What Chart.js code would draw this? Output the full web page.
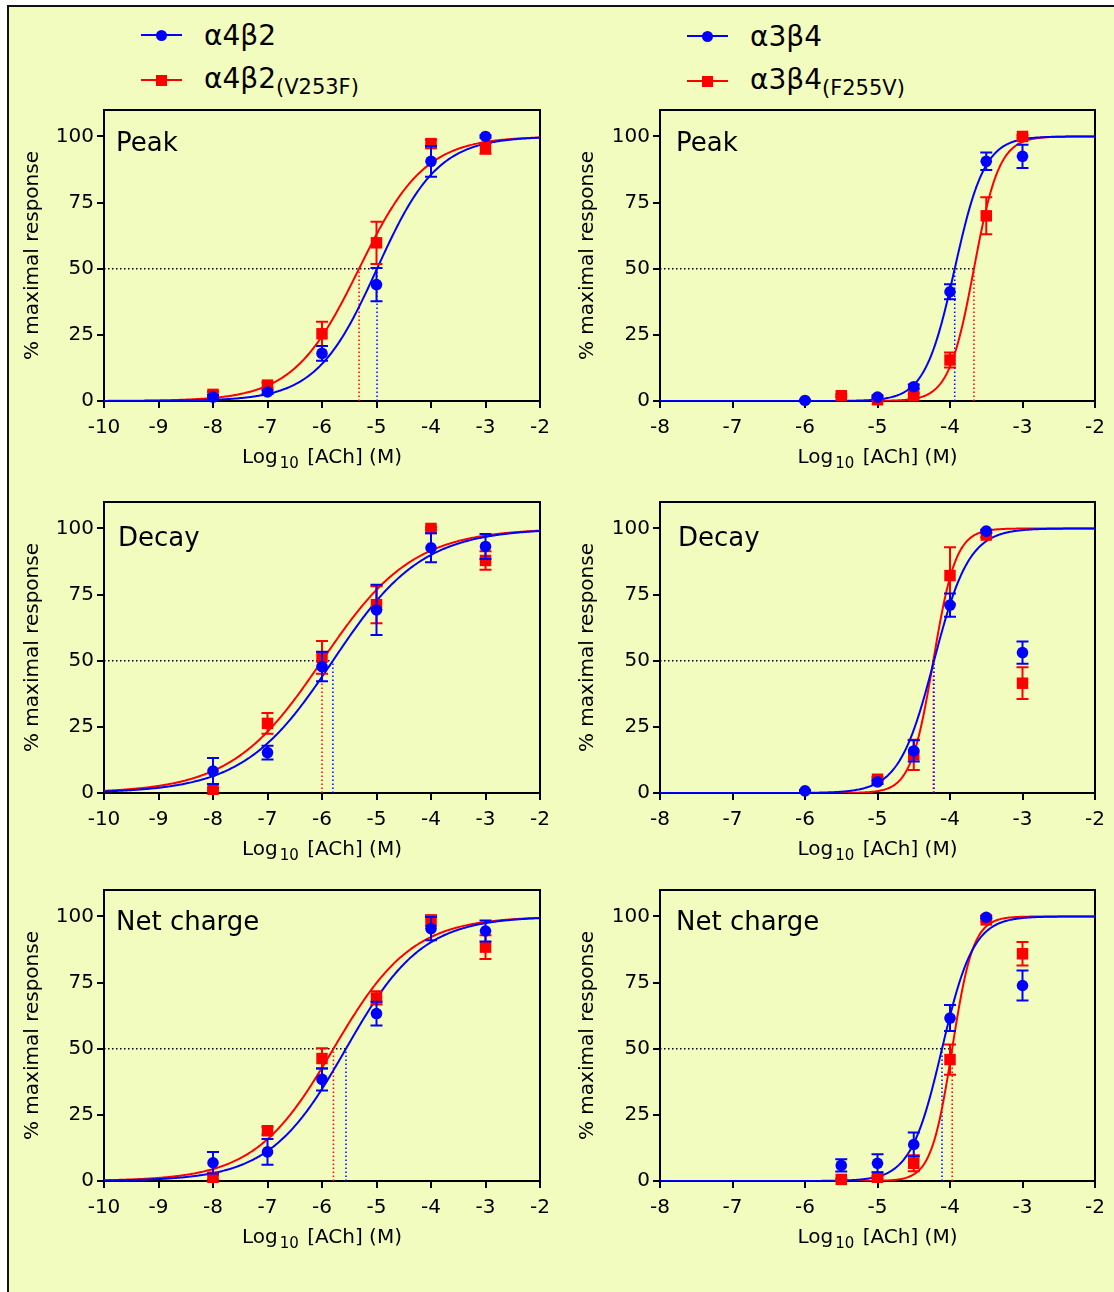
<!DOCTYPE html>
<html>
<head>
<meta charset="utf-8">
<script src="https://cdn.jsdelivr.net/npm/chart.js@4.4.1/dist/chart.umd.min.js"></script>
<style>
html,body{margin:0;padding:0;background:#ffffff;width:1114px;height:1292px;overflow:hidden;font-family:"DejaVu Sans",Verdana,sans-serif;}
#frame{position:absolute;left:7px;top:5px;width:1200px;height:1400px;background:#f3fcbf;border-left:2px solid #111;border-top:2px solid #111;}
canvas{position:absolute;}
.leg{position:absolute;font-size:28px;line-height:28px;color:#000;white-space:nowrap;}
.leg span{font-size:21px;position:relative;top:6px;}
.lline{position:absolute;height:2px;width:41px;}
.ldot{position:absolute;width:11px;height:11px;border-radius:50%;background:#0000ff;}
.lsq{position:absolute;width:11px;height:11px;background:#ff0000;}
</style>
</head>
<body>
<div id="frame"></div>

<div class="lline" style="left:141px;top:34px;background:#0000ff"></div>
<div class="ldot" style="left:155.5px;top:29.5px"></div>
<div class="leg" style="left:204px;top:22px">α4β2</div>
<div class="lline" style="left:141px;top:79px;background:#ff0000"></div>
<div class="lsq" style="left:155.5px;top:74.5px"></div>
<div class="leg" style="left:204px;top:65px">α4β2<span>(V253F)</span></div>

<div class="lline" style="left:687px;top:35px;background:#0000ff"></div>
<div class="ldot" style="left:701.5px;top:30.5px"></div>
<div class="leg" style="left:750px;top:23px">α3β4</div>
<div class="lline" style="left:687px;top:80px;background:#ff0000"></div>
<div class="lsq" style="left:701.5px;top:75.5px"></div>
<div class="leg" style="left:750px;top:66px">α3β4<span>(F255V)</span></div>

<canvas id="c0" width="560" height="400" style="left:0px;top:100px"></canvas>
<canvas id="c1" width="558" height="400" style="left:556px;top:100px"></canvas>
<canvas id="c2" width="560" height="400" style="left:0px;top:492px"></canvas>
<canvas id="c3" width="558" height="400" style="left:556px;top:492px"></canvas>
<canvas id="c4" width="560" height="400" style="left:0px;top:880px"></canvas>
<canvas id="c5" width="558" height="400" style="left:556px;top:880px"></canvas>

<script>
// ---------------- data ----------------
const FONT = '"DejaVu Sans", Verdana, sans-serif';
const xTicksA42 = [-10, -9, -8, -7, -6, -5, -4, -3, -2];
const xTicksA34 = [-8, -7, -6, -5, -4, -3, -2];
const yTicks = [0, 25, 50, 75, 100];
const panelTitles = ['Peak', 'Decay', 'Net charge'];
const yAxisTitle = '% maximal response';

// alpha4beta2 (log10 [ACh] M)
const a42Dose = [-8, -7, -6, -5, -4, -3];
const a42PeakWT      = [1.5, 3.4, 18.0, 44.0, 90.6, 100.0];
const a42PeakWTErr   = [0.8, 0.8, 2.8, 6.3, 5.8, 0.5];
const a42PeakMut     = [2.5, 6.0, 25.4, 59.8, 97.3, 95.5];
const a42PeakMutErr  = [1.0, 1.0, 4.6, 8.0, 1.5, 2.0];
const a42DecayWT     = [8.3, 15.3, 47.8, 69.2, 92.7, 93.2];
const a42DecayWTErr  = [4.9, 2.6, 5.6, 9.5, 5.5, 4.7];
const a42DecayMut    = [1.4, 26.3, 51.3, 71.2, 100.0, 87.9];
const a42DecayMutErr = [0.5, 3.9, 6.2, 7.0, 0.5, 3.5];
const a42NetWT       = [6.9, 11.0, 38.4, 63.3, 95.4, 94.5];
const a42NetWTErr    = [4.1, 4.9, 4.2, 4.5, 4.4, 4.0];
const a42NetMut      = [1.4, 19.0, 46.3, 69.2, 98.5, 88.4];
const a42NetMutErr   = [0.8, 1.5, 3.9, 2.5, 2.0, 4.5];

// alpha3beta4
const a34PeakWTDose   = [-6, -5, -4.5, -4, -3.5, -3];
const a34PeakWT       = [0.2, 1.5, 5.4, 41.3, 90.6, 92.5];
const a34PeakWTErr    = [0.3, 0.5, 0.8, 2.8, 3.3, 4.4];
const a34PeakMutDose  = [-5.5, -5, -4.5, -4, -3.5, -3];
const a34PeakMut      = [2.0, 0.5, 2.0, 15.5, 70.0, 100.0];
const a34PeakMutErr   = [0.5, 0.3, 0.8, 2.8, 7.0, 0.5];
const a34DecayWTDose  = [-6, -5, -4.5, -4, -3.5, -3];
const a34DecayWT      = [0.8, 4.2, 15.9, 71.0, 99.0, 53.1];
const a34DecayWTErr   = [0.3, 0.8, 4.0, 4.4, 0.5, 4.2];
const a34DecayMutDose = [-5, -4.5, -4, -3.5, -3];
const a34DecayMut     = [5.2, 14.4, 82.2, 97.5, 41.5];
const a34DecayMutErr  = [0.8, 5.7, 10.7, 0.8, 6.0];
const a34NetWTDose    = [-5.5, -5, -4.5, -4, -3.5, -3];
const a34NetWT        = [5.9, 6.7, 13.8, 61.6, 99.7, 73.9];
const a34NetWTErr     = [2.3, 3.4, 4.5, 4.9, 0.5, 5.7];
const a34NetMutDose   = [-5.5, -5, -4.5, -4, -3.5, -3];
const a34NetMut       = [0.6, 1.4, 6.7, 45.9, 98.7, 85.9];
const a34NetMutErr    = [0.3, 0.5, 3.0, 5.7, 0.5, 4.4];

// Hill fits: [logEC50, Hill slope]
const a42PeakWTFit   = [-4.99, 0.78];
const a42PeakMutFit  = [-5.32, 0.72];
const a34PeakWTFit   = [-3.935, 2.1];
const a34PeakMutFit  = [-3.67, 2.5];
const a42DecayWTFit  = [-5.80, 0.53];
const a42DecayMutFit = [-6.00, 0.52];
const a34DecayWTFit  = [-4.22, 1.8];
const a34DecayMutFit = [-4.23, 2.8];
const a42NetWTFit    = [-5.56, 0.62];
const a42NetMutFit   = [-5.79, 0.60];
const a34NetWTFit    = [-4.11, 2.0];
const a34NetMutFit   = [-3.97, 3.0];

// ---------------- helpers ----------------
const BLUE = '#0000ff', RED = '#ff0000';
function hillCurve(fit, xmin, xmax) {
  const pts = [];
  const n = 400;
  for (let i = 0; i <= n; i++) {
    const x = xmin + (xmax - xmin) * i / n;
    pts.push({x: x, y: 100 / (1 + Math.pow(10, (fit[0] - x) * fit[1]))});
  }
  return pts;
}
function zip(xs, ys) { return xs.map((x, i) => ({x: x, y: ys[i]})); }

const panels = [
  {id:'c0', xMin:-10, xTicks:xTicksA42, title:panelTitles[0], tdx:12, tdy:41, ytPad:21, padR:20,
   blue:{x:a42Dose, y:a42PeakWT, e:a42PeakWTErr, fit:a42PeakWTFit},
   red:{x:a42Dose, y:a42PeakMut, e:a42PeakMutErr, fit:a42PeakMutFit}},
  {id:'c1', xMin:-8, xTicks:xTicksA34, title:panelTitles[0], tdx:16, tdy:41, ytPad:20, padR:19,
   blue:{x:a34PeakWTDose, y:a34PeakWT, e:a34PeakWTErr, fit:a34PeakWTFit},
   red:{x:a34PeakMutDose, y:a34PeakMut, e:a34PeakMutErr, fit:a34PeakMutFit}},
  {id:'c2', xMin:-10, xTicks:xTicksA42, title:panelTitles[1], tdx:14, tdy:44, ytPad:21, padR:20,
   blue:{x:a42Dose, y:a42DecayWT, e:a42DecayWTErr, fit:a42DecayWTFit},
   red:{x:a42Dose, y:a42DecayMut, e:a42DecayMutErr, fit:a42DecayMutFit}},
  {id:'c3', xMin:-8, xTicks:xTicksA34, title:panelTitles[1], tdx:18, tdy:44, ytPad:20, padR:19,
   blue:{x:a34DecayWTDose, y:a34DecayWT, e:a34DecayWTErr, fit:a34DecayWTFit},
   red:{x:a34DecayMutDose, y:a34DecayMut, e:a34DecayMutErr, fit:a34DecayMutFit}},
  {id:'c4', xMin:-10, xTicks:xTicksA42, title:panelTitles[2], tdx:12, tdy:40, ytPad:21, padR:20,
   blue:{x:a42Dose, y:a42NetWT, e:a42NetWTErr, fit:a42NetWTFit},
   red:{x:a42Dose, y:a42NetMut, e:a42NetMutErr, fit:a42NetMutFit}},
  {id:'c5', xMin:-8, xTicks:xTicksA34, title:panelTitles[2], tdx:16, tdy:40, ytPad:20, padR:19,
   blue:{x:a34NetWTDose, y:a34NetWT, e:a34NetWTErr, fit:a34NetWTFit},
   red:{x:a34NetMutDose, y:a34NetMut, e:a34NetMutErr, fit:a34NetMutFit}}
];

const errorBarPlugin = {
  id: 'errbars',
  beforeDatasetDraw(chart, args) {
    const ds = chart.data.datasets[args.index];
    if (!ds.errors) return;
    const xs = chart.scales.x, ys = chart.scales.y, ctx = chart.ctx;
    ctx.save();
    ctx.strokeStyle = ds.backgroundColor;
    ctx.lineWidth = 2;
    ds.data.forEach((pt, i) => {
      const e = ds.errors[i];
      if (!e) return;
      const px = xs.getPixelForValue(pt.x);
      const y1 = ys.getPixelForValue(pt.y - e);
      const y2 = ys.getPixelForValue(pt.y + e);
      ctx.beginPath();
      ctx.moveTo(px, y1); ctx.lineTo(px, y2);
      ctx.moveTo(px - 6, y1); ctx.lineTo(px + 6, y1);
      ctx.moveTo(px - 6, y2); ctx.lineTo(px + 6, y2);
      ctx.stroke();
    });
    ctx.restore();
  }
};

function makeFramePlugin(p) {
  return {
    id: 'frameText',
    beforeDatasetsDraw(chart) {
      const a = chart.chartArea, ctx = chart.ctx;
      ctx.save();
      ctx.strokeStyle = '#000';
      ctx.lineWidth = 2;
      ctx.beginPath();
      ctx.moveTo(a.left - 1, a.top);
      ctx.lineTo(a.right, a.top);
      ctx.lineTo(a.right, a.bottom);
      ctx.stroke();
      ctx.restore();
    },
    afterDraw(chart) {
      const a = chart.chartArea, ctx = chart.ctx;
      ctx.save();
      ctx.fillStyle = '#000';
      ctx.textBaseline = 'alphabetic';
      ctx.textAlign = 'left';
      ctx.font = '26px ' + FONT;
      ctx.fillText(p.title, a.left + p.tdx, a.top + p.tdy);
      // x-axis title with subscript
      const big = '20px ' + FONT, small = '15px ' + FONT;
      ctx.font = big; const w1 = ctx.measureText('Log').width;
      ctx.font = small; const w2 = ctx.measureText('10').width;
      ctx.font = big; const w3 = ctx.measureText(' [ACh] (M)').width;
      const total = w1 + 2 + w2 + w3 + 2;
      let x = (a.left + a.right) / 2 - total / 2;
      const base = a.bottom + 62;
      ctx.font = big; ctx.fillText('Log', x, base); x += w1 + 2;
      ctx.font = small; ctx.fillText('10', x, base + 5); x += w2 + 2;
      ctx.font = big; ctx.fillText(' [ACh] (M)', x, base);
      ctx.restore();
    }
  };
}

Chart.defaults.color = '#000';
Chart.defaults.font.family = FONT;

panels.forEach(p => {
  const ec = [p.blue.fit[0], p.red.fit[0]];
  const ecMax = Math.max(ec[0], ec[1]);
  const datasets = [
    {label:'blue pts', data:zip(p.blue.x, p.blue.y), errors:p.blue.e, order:1,
     backgroundColor:BLUE, borderColor:BLUE, borderWidth:0, pointStyle:'circle', pointRadius:5.8, pointHoverRadius:5.8, clip:false},
    {label:'red pts', data:zip(p.red.x, p.red.y), errors:p.red.e, order:2,
     backgroundColor:RED, borderColor:RED, borderWidth:0, pointStyle:'rect', pointRadius:8.1, pointHoverRadius:8.1, clip:false},
    {label:'blue fit', data:hillCurve(p.blue.fit, p.xMin, -2), order:3, showLine:true, pointRadius:0,
     borderColor:BLUE, borderWidth:2, backgroundColor:BLUE},
    {label:'red fit', data:hillCurve(p.red.fit, p.xMin, -2), order:4, showLine:true, pointRadius:0,
     borderColor:RED, borderWidth:2, backgroundColor:RED},
    {label:'half', data:[{x:p.xMin, y:50}, {x:ecMax, y:50}], order:5, showLine:true, pointRadius:0,
     borderColor:'#000', borderWidth:1.5, borderDash:[1.5, 2.5]},
    {label:'blue ec50', data:[{x:ec[0], y:0}, {x:ec[0], y:50}], order:6, showLine:true, pointRadius:0,
     borderColor:BLUE, borderWidth:1.5, borderDash:[1.5, 2.5]},
    {label:'red ec50', data:[{x:ec[1], y:0}, {x:ec[1], y:50}], order:7, showLine:true, pointRadius:0,
     borderColor:RED, borderWidth:1.5, borderDash:[1.5, 2.5]}
  ];
  new Chart(document.getElementById(p.id), {
    type: 'scatter',
    data: {datasets: datasets},
    options: {
      responsive: false,
      animation: false,
      devicePixelRatio: 1,
      events: [],
      layout: {padding: {left: 0, right: p.padR, top: 10, bottom: 0}},
      plugins: {legend: {display: false}, tooltip: {enabled: false}},
      scales: {
        x: {
          type: 'linear', min: p.xMin, max: -2,
          afterBuildTicks: s => { s.ticks = p.xTicks.map(v => ({value: v})); },
          afterFit: s => { s.height = 99; s.paddingLeft = 0; s.paddingRight = 0; s.paddingTop = 0; s.paddingBottom = 0; },
          grid: {display: true, drawOnChartArea: false, drawTicks: true, tickLength: 7, color: '#000', lineWidth: 2},
          border: {display: true, color: '#000', width: 2},
          ticks: {font: {family: FONT, size: 20}, color: '#000', padding: 8, maxRotation: 0, autoSkip: false,
                  callback: v => String(v)}
        },
        y: {
          type: 'linear', min: 0, max: 110,
          afterBuildTicks: s => { s.ticks = yTicks.map(v => ({value: v})); },
          afterFit: s => { s.width = 104; s.paddingTop = 0; s.paddingBottom = 0; s.paddingLeft = 0; s.paddingRight = 0; },
          grid: {display: true, drawOnChartArea: false, drawTicks: true, tickLength: 7, color: '#000', lineWidth: 2},
          border: {display: true, color: '#000', width: 2},
          ticks: {font: {family: FONT, size: 20}, color: '#000', padding: 3, callback: v => String(v)},
          title: {display: true, text: yAxisTitle, font: {family: FONT, size: 20}, color: '#000',
                  padding: {top: p.ytPad, bottom: 0}}
        }
      }
    },
    plugins: [errorBarPlugin, makeFramePlugin(p)]
  });
});
</script>
</body>
</html>
